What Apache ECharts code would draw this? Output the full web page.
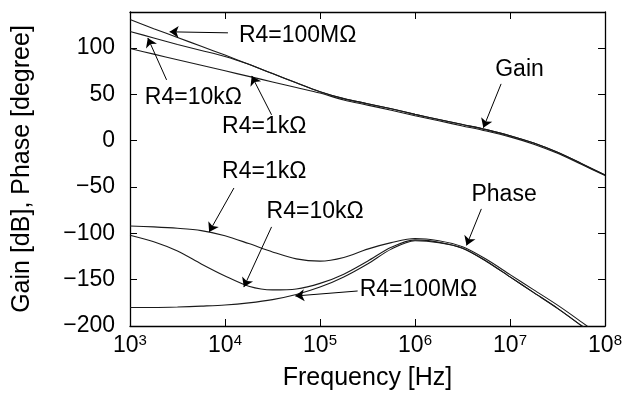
<!DOCTYPE html>
<html>
<head>
<meta charset="utf-8">
<script src="https://cdn.jsdelivr.net/npm/echarts@6/dist/echarts.min.js"></script>
<style>
html, body { margin: 0; padding: 0; background: #fff; }
#chart { width: 625px; height: 397px; }
</style>
</head>
<body>
<div id="chart"></div>
<script>
// frequency points (Hz), quarter decade steps
var freq = [1000, 1778, 3162, 5623, 10000, 17783, 31623, 56234, 100000, 177828, 316228, 562341,
    1000000, 1778279, 3162278, 5623413, 10000000, 17782794, 31622777, 56234133, 100000000];

// gain [dB]
var gain1k = [99.5, 93.5, 87.5, 81.5, 75.5, 69.5, 63.5, 57.5, 51.5, 44, 38.5, 33,
    27, 21.5, 16, 10.5, 4.2, -3.7, -13.6, -25.5, -37.5];
var gain10k = [118, 111, 104, 97.5, 91, 82.5, 72.5, 62.5, 53, 45.5, 40, 34.5,
    28.5, 23, 17.5, 12, 5.5, -2.5, -12.5, -24.5, -37];
var gain100M = [131, 121, 111.5, 102, 92.5, 82.5, 72.5, 62.5, 53, 45.5, 40, 34.5,
    28.5, 23, 17.5, 12, 5.5, -2.5, -12.5, -24.5, -37];

// phase [degree]
var phase1k = [-92, -93, -94.5, -97, -102.5, -111, -120, -127.5, -130, -126, -117, -110,
    -105.5, -108, -114.5, -128, -144.5, -161, -177.5, -195.5, -214];
var phase10k = [-102, -109, -119, -133, -146, -157, -161, -160, -154, -144, -130, -115,
    -107, -109.5, -116, -130, -147, -164, -181, -199.5, -218];
var phase100M = [-180, -180, -179.5, -178.5, -177.3, -175, -171.5, -166, -158, -147, -133, -117,
    -108, -110, -116, -130, -147, -164, -181, -199.5, -218];

// tick labels
var xTickExp = {1000: '3', 10000: '4', 100000: '5', 1000000: '6', 10000000: '7', 100000000: '8'};

// annotations: text, where the text starts, arrow from -> to (data coords)
var notes = [
    {text: 'R4=100MΩ', at: [14000, 114], from: [10740, 116.5], to: [2612, 117.6]},
    {text: 'R4=10kΩ', at: [1432, 46], from: [2427, 65.7], to: [1540, 111]},
    {text: 'R4=1kΩ', at: [9311, 15], from: [30903, 28], to: [19100, 70]},
    {text: 'Gain', at: [6982000, 76.5], from: [8054000, 61.4], to: [5236000, 14]},
    {text: 'R4=1kΩ', at: [9311, -33.4], from: [12417, -51], to: [6808, -98.5]},
    {text: 'R4=10kΩ', at: [27384, -77], from: [30903, -93], to: [15776, -158]},
    {text: 'R4=100MΩ', at: [261216, -161], from: [248886, -162.2], to: [54954, -167.6]},
    {text: 'Phase', at: [3926000, -58.5], from: [4989000, -73.6], to: [3483000, -113]}
];

function pairs(v) {
    return freq.map(function (f, i) { return [f, v[i]]; });
}

var myChart = echarts.init(document.getElementById('chart'));

var lineColor = '#1a1a1a';
var font = 'Liberation Sans';

function curve(name, values) {
    return {
        name: name,
        type: 'line',
        data: pairs(values),
        showSymbol: false,
        smooth: 0.3,
        clip: true,
        lineStyle: { color: lineColor, width: 1.1 },
        silent: true
    };
}

var series = [
    curve('gain1k', gain1k),
    curve('gain10k', gain10k),
    curve('gain100M', gain100M),
    curve('phase1k', phase1k),
    curve('phase10k', phase10k),
    curve('phase100M', phase100M)
];

// arrows and their labels hang off the first series
series[0].markLine = {
    silent: true,
    symbol: ['none', 'arrow'],
    symbolSize: 9,
    label: { show: false },
    lineStyle: { color: '#000', width: 1, type: 'solid' },
    data: notes.map(function (n) {
        return [{ coord: n.from }, { coord: n.to }];
    })
};
series[0].markPoint = {
    silent: true,
    symbol: 'circle',
    symbolSize: 0,
    label: {
        show: true,
        position: 'right',
        distance: 0,
        color: '#000',
        fontFamily: font,
        fontSize: 23,
        formatter: '{b}'
    },
    data: notes.map(function (n) {
        return { name: n.text, coord: n.at };
    })
};

var option = {
    animation: false,
    textStyle: { fontFamily: font },
    grid: { left: 130, right: 15, top: 12, bottom: 71 },
    xAxis: [{
        type: 'log',
        logBase: 10,
        min: 1000,
        max: 100000000,
        name: 'Frequency [Hz]',
        nameLocation: 'middle',
        nameGap: 40,
        nameTextStyle: { color: '#000', fontSize: 25, fontFamily: font },
        axisLine: { onZero: false, lineStyle: { color: '#000', width: 1.3 } },
        axisTick: { inside: true, length: 7, lineStyle: { color: '#000' } },
        splitLine: { show: false },
        minorTick: { show: false },
        axisLabel: {
            margin: 7,
            color: '#000',
            formatter: function (v) {
                var e = xTickExp[Math.round(v)] || String(Math.round(Math.log10(v)));
                return '{b|10}{s|' + e + '}';
            },
            rich: {
                b: { fontSize: 23, lineHeight: 26, fontFamily: font, color: '#000' },
                s: { fontSize: 15, lineHeight: 10, verticalAlign: 'top', fontFamily: font, color: '#000' }
            }
        }
    }, {
        type: 'log',
        logBase: 10,
        min: 1000,
        max: 100000000,
        position: 'top',
        axisLine: { onZero: false, lineStyle: { color: '#000', width: 1.3 } },
        axisTick: { inside: true, length: 7, lineStyle: { color: '#000' } },
        axisLabel: { show: false },
        splitLine: { show: false }
    }],
    yAxis: [{
        type: 'value',
        min: -200,
        max: 139,
        interval: 50,
        name: 'Gain [dB], Phase [degree]',
        nameLocation: 'middle',
        nameGap: 95,
        nameTextStyle: { color: '#000', fontSize: 25, fontFamily: font },
        axisLine: { show: true, onZero: false, lineStyle: { color: '#000', width: 1.3 } },
        axisTick: { inside: true, length: 7, lineStyle: { color: '#000' } },
        splitLine: { show: false },
        axisLabel: {
            margin: 15,
            color: '#000',
            fontSize: 23,
            showMaxLabel: false,
            formatter: function (v) {
                return v < 0 ? '\u2212' + Math.abs(v) : String(v);
            }
        }
    }, {
        type: 'value',
        min: -200,
        max: 139,
        interval: 50,
        position: 'right',
        axisLine: { show: true, onZero: false, lineStyle: { color: '#000', width: 1.3 } },
        axisTick: { inside: true, length: 7, lineStyle: { color: '#000' } },
        axisLabel: { show: false },
        splitLine: { show: false }
    }],
    series: series
};

myChart.setOption(option);
window.addEventListener('resize', function () {
    myChart.resize();
});
</script>
</body>
</html>
